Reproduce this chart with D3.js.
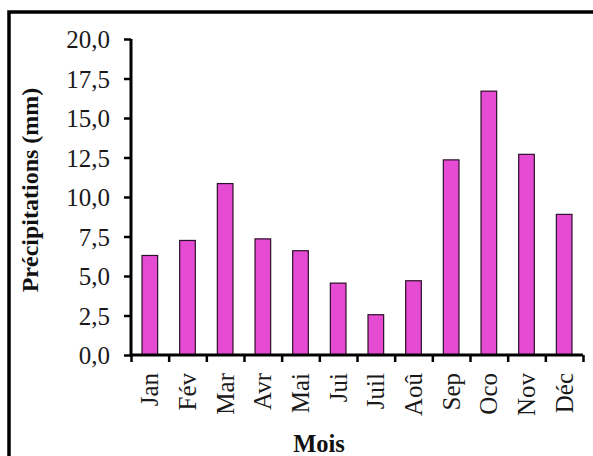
<!DOCTYPE html>
<html><head><meta charset="utf-8">
<script src="https://cdn.jsdelivr.net/npm/d3@7"></script>
<style>body{margin:0;background:#fff}svg{display:block}</style>
</head><body>
<svg id="c" width="593" height="456"></svg>
<script>
const months = ["Jan","Fév","Mar","Avr","Mai","Jui","Juil","Aoû","Sep","Oco","Nov","Déc"];
const precip = [6.3, 7.25, 10.85, 7.35, 6.6, 4.55, 2.55, 4.7, 12.35, 16.7, 12.7, 8.9];
const yTicks = [0, 2.5, 5, 7.5, 10, 12.5, 15, 17.5, 20];
const yTitle = "Précipitations (mm)";
const xTitle = "Mois";

const svg = d3.select("#c");
const pL = 131, pR = 583, pT = 39, pB = 355;
const font = "'Liberation Serif','Times New Roman',serif";

// outer border
svg.append("rect").attr("x", 9).attr("y", 12).attr("width", 640).attr("height", 500)
  .attr("fill", "none").attr("stroke", "#000").attr("stroke-width", 3.5);

const x = d3.scaleBand().domain(months).range([pL, pR]).paddingInner(0.585).paddingOuter(0.2925);
const xb = d3.scaleLinear().domain([0, months.length]).range([pL, pR]);
const y = d3.scaleLinear().domain([0, 20]).range([pB, pT]);

// bars
svg.append("g").selectAll("rect").data(months).join("rect")
  .attr("x", d => x(d))
  .attr("y", (d, i) => y(precip[i]))
  .attr("width", x.bandwidth())
  .attr("height", (d, i) => y(0) - y(precip[i]))
  .attr("fill", "#e64bd3").attr("stroke", "#2a1028").attr("stroke-width", 1.2);

// y axis
const ya = svg.append("g").attr("transform", `translate(${pL},0)`)
  .call(d3.axisLeft(y).tickValues(yTicks).tickSize(7).tickPadding(14)
    .tickFormat(d => d3.format(".1f")(d).replace(".", ",")));
ya.select(".domain").attr("stroke-width", 3).attr("d", `M0,${pT}V${pB}`);
ya.selectAll(".tick line").attr("stroke-width", 2.5);
ya.selectAll(".tick text").attr("font-family", font).attr("font-size", 25).attr("fill", "#1a1a1a").attr("dy", "0.34em");

// x axis
const xa = svg.append("g").attr("transform", `translate(0,${pB})`)
  .call(d3.axisBottom(xb).tickValues(d3.range(0, months.length + 1)).tickSize(7).tickFormat(""));
xa.select(".domain").attr("stroke-width", 3).attr("d", `M${pL},0H${pR}`);
xa.selectAll(".tick line").attr("stroke-width", 2.5);

// category labels
svg.append("g").selectAll("text").data(months).join("text")
  .attr("transform", d => `translate(${x(d) + x.bandwidth() / 2},373) rotate(-90)`)
  .attr("text-anchor", "end").attr("dy", "0.34em")
  .attr("font-family", font).attr("font-size", 25).attr("fill", "#1a1a1a")
  .text(d => d);

// titles
svg.append("text").attr("transform", "translate(38,190) rotate(-90)")
  .attr("text-anchor", "middle").attr("font-family", font).attr("font-weight", "bold")
  .attr("font-size", 24).attr("fill", "#111").text(yTitle);
svg.append("text").attr("x", 319).attr("y", 452)
  .attr("text-anchor", "middle").attr("font-family", font).attr("font-weight", "bold")
  .attr("font-size", 24.5).attr("fill", "#111").text(xTitle);
</script>
</body></html>
